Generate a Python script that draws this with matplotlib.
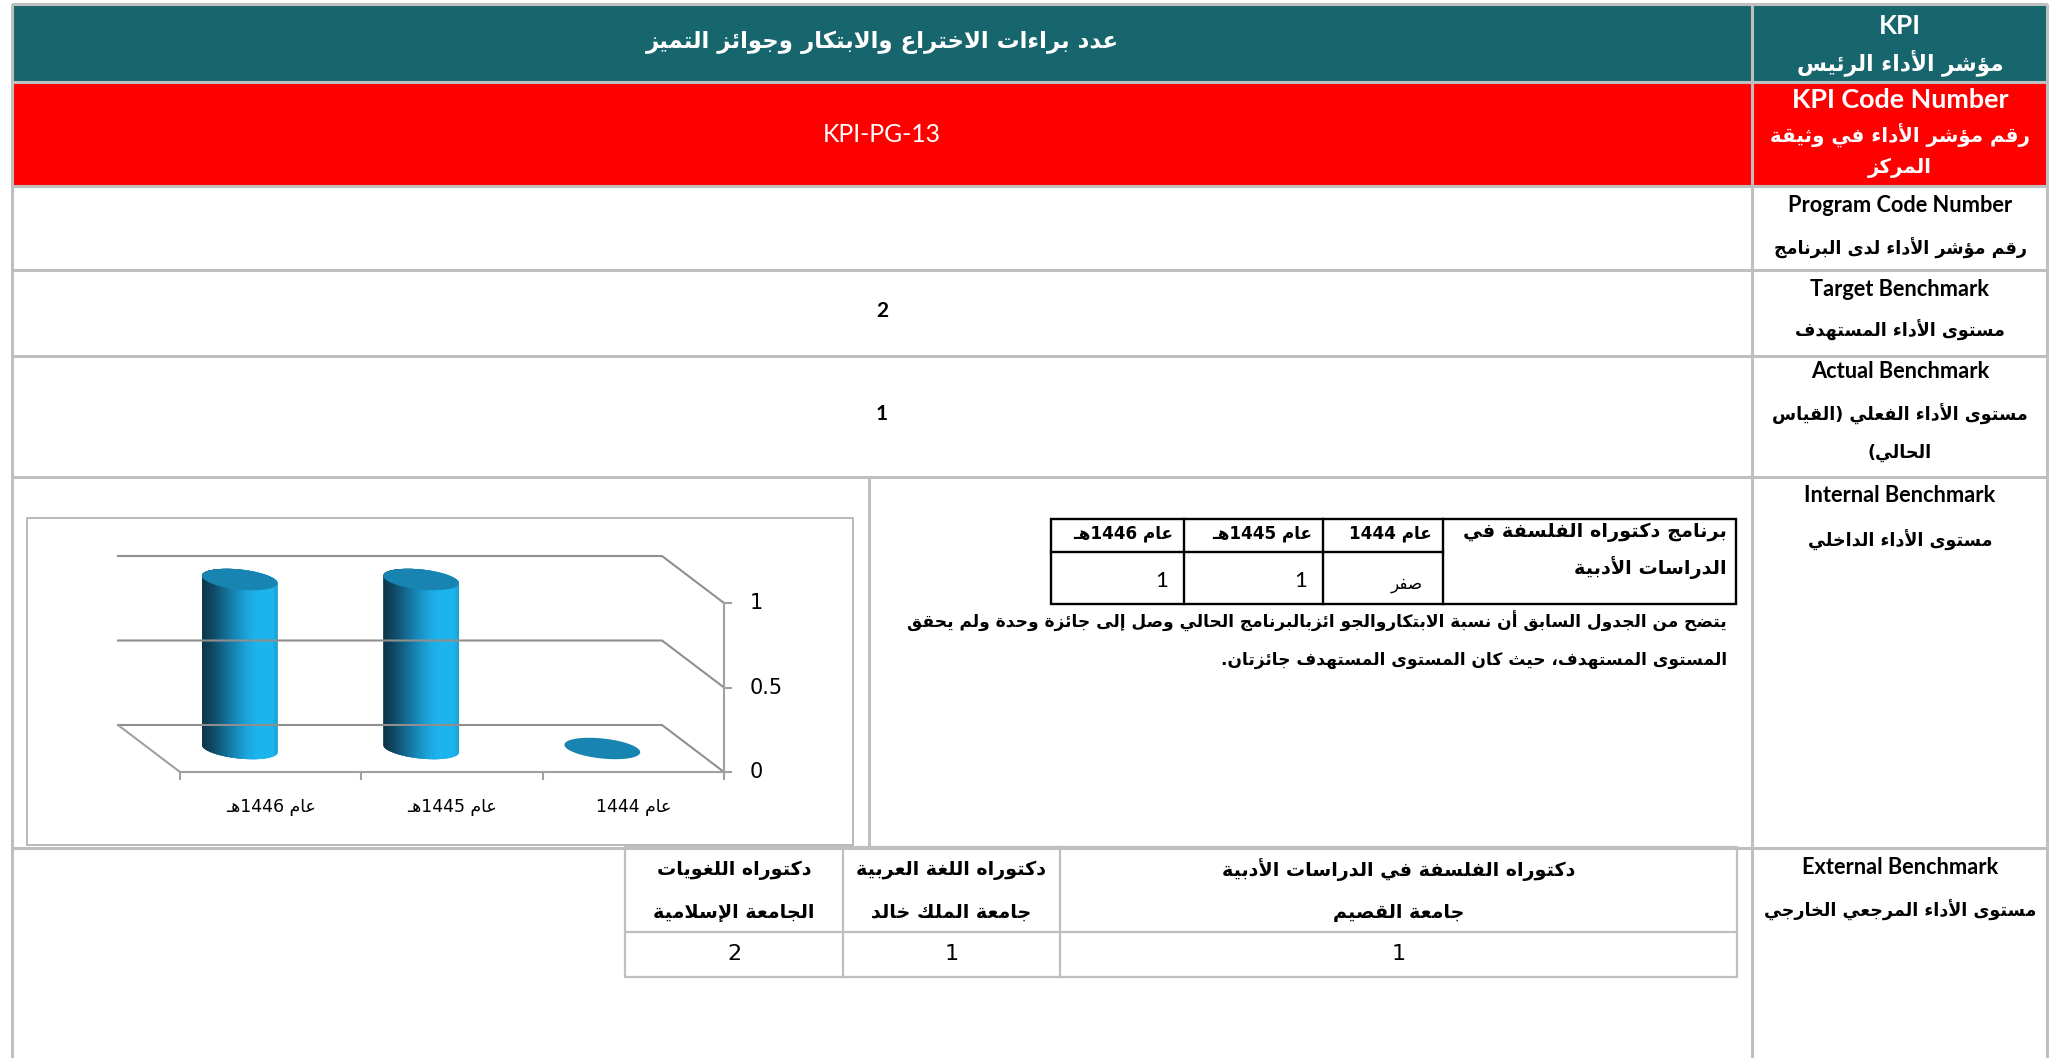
import re
import numpy as np
import matplotlib
matplotlib.use('Agg')
import matplotlib.pyplot as plt
from matplotlib.patches import Rectangle, Polygon
from matplotlib.collections import PolyCollection
from matplotlib.lines import Line2D
from matplotlib.transforms import IdentityTransform
from matplotlib.colors import LinearSegmentedColormap

# ---------------- data ----------------
kpi_title = 'عدد براءات الاختراع والابتكار وجوائز التميز'
kpi_code = 'KPI-PG-13'
target_value = '2'
actual_value = '1'
row_labels_en = ['KPI', 'KPI Code Number', 'Program Code Number', 'Target Benchmark',
                 'Actual Benchmark', 'Internal Benchmark', 'External Benchmark']
row_labels_ar = [['مؤشر الأداء الرئيس'],
                 ['رقم مؤشر الأداء في وثيقة', 'المركز'],
                 ['رقم مؤشر الأداء لدى البرنامج'],
                 ['مستوى الأداء المستهدف'],
                 ['مستوى الأداء الفعلي (القياس', 'الحالي)'],
                 ['مستوى الأداء الداخلي'],
                 ['مستوى الأداء المرجعي الخارجي']]
years = ['عام 1444', 'عام 1445هـ', 'عام 1446هـ']
awards = [0, 1, 1]
award_cells = ['صفر', '1', '1']
program_name = ['برنامج دكتوراه الفلسفة في', 'الدراسات الأدبية']
comment_lines = ['يتضح من الجدول السابق أن نسبة الابتكاروالجو ائزبالبرنامج الحالي وصل إلى جائزة وحدة ولم يحقق',
                 'المستوى المستهدف، حيث كان المستوى المستهدف جائزتان.']
y_ticks = [0, 0.5, 1]
y_tick_labels = ['0', '0.5', '1']
ext_programs = ['دكتوراه الفلسفة في الدراسات الأدبية', 'دكتوراه اللغة العربية', 'دكتوراه اللغويات']
ext_universities = ['جامعة القصيم', 'جامعة الملك خالد', 'الجامعة الإسلامية']
ext_values = [1, 1, 2]

# ---------------- minimal Arabic shaping + RTL ordering ----------------
_AR = {
    0x0621: (0xFE80, None, None, None), 0x0622: (0xFE81, 0xFE82, None, None),
    0x0623: (0xFE83, 0xFE84, None, None), 0x0624: (0xFE85, 0xFE86, None, None),
    0x0625: (0xFE87, 0xFE88, None, None), 0x0626: (0xFE89, 0xFE8A, 0xFE8B, 0xFE8C),
    0x0627: (0xFE8D, 0xFE8E, None, None), 0x0628: (0xFE8F, 0xFE90, 0xFE91, 0xFE92),
    0x0629: (0xFE93, 0xFE94, None, None), 0x062A: (0xFE95, 0xFE96, 0xFE97, 0xFE98),
    0x062B: (0xFE99, 0xFE9A, 0xFE9B, 0xFE9C), 0x062C: (0xFE9D, 0xFE9E, 0xFE9F, 0xFEA0),
    0x062D: (0xFEA1, 0xFEA2, 0xFEA3, 0xFEA4), 0x062E: (0xFEA5, 0xFEA6, 0xFEA7, 0xFEA8),
    0x062F: (0xFEA9, 0xFEAA, None, None), 0x0630: (0xFEAB, 0xFEAC, None, None),
    0x0631: (0xFEAD, 0xFEAE, None, None), 0x0632: (0xFEAF, 0xFEB0, None, None),
    0x0633: (0xFEB1, 0xFEB2, 0xFEB3, 0xFEB4), 0x0634: (0xFEB5, 0xFEB6, 0xFEB7, 0xFEB8),
    0x0635: (0xFEB9, 0xFEBA, 0xFEBB, 0xFEBC), 0x0636: (0xFEBD, 0xFEBE, 0xFEBF, 0xFEC0),
    0x0637: (0xFEC1, 0xFEC2, 0xFEC3, 0xFEC4), 0x0638: (0xFEC5, 0xFEC6, 0xFEC7, 0xFEC8),
    0x0639: (0xFEC9, 0xFECA, 0xFECB, 0xFECC), 0x063A: (0xFECD, 0xFECE, 0xFECF, 0xFED0),
    0x0640: (0x0640, 0x0640, 0x0640, 0x0640),
    0x0641: (0xFED1, 0xFED2, 0xFED3, 0xFED4), 0x0642: (0xFED5, 0xFED6, 0xFED7, 0xFED8),
    0x0643: (0xFED9, 0xFEDA, 0xFEDB, 0xFEDC), 0x0644: (0xFEDD, 0xFEDE, 0xFEDF, 0xFEE0),
    0x0645: (0xFEE1, 0xFEE2, 0xFEE3, 0xFEE4), 0x0646: (0xFEE5, 0xFEE6, 0xFEE7, 0xFEE8),
    0x0647: (0xFEE9, 0xFEEA, 0xFEEB, 0xFEEC), 0x0648: (0xFEED, 0xFEEE, None, None),
    0x0649: (0xFEEF, 0xFEF0, None, None), 0x064A: (0xFEF1, 0xFEF2, 0xFEF3, 0xFEF4),
}
_LAMALEF = {0x0622: (0xFEF5, 0xFEF6), 0x0623: (0xFEF7, 0xFEF8),
            0x0625: (0xFEF9, 0xFEFA), 0x0627: (0xFEFB, 0xFEFC)}


def _jn(ch):
    f = _AR.get(ord(ch)) if ch else None
    return f is not None and f[2] is not None


def _jp(ch):
    f = _AR.get(ord(ch)) if ch else None
    return f is not None and f[1] is not None


def shape(text):
    out, i, n = [], 0, len(text)
    while i < n:
        c = text[i]
        f = _AR.get(ord(c))
        if f is None:
            out.append(c); i += 1; continue
        prev = text[i - 1] if i > 0 else ''
        pj = _jn(prev) and f[1] is not None
        if ord(c) == 0x644 and i + 1 < n and ord(text[i + 1]) in _LAMALEF:
            iso, fin = _LAMALEF[ord(text[i + 1])]
            out.append(chr(fin if pj else iso)); i += 2; continue
        nxt = text[i + 1] if i + 1 < n else ''
        nj = f[2] is not None and _jp(nxt)
        g = f[3] if (pj and nj) else f[1] if pj else f[2] if nj else f[0]
        out.append(chr(g)); i += 1
    return ''.join(out)


def ar(text):
    s = shape(text)[::-1]
    s = re.sub(r'[0-9A-Za-z][0-9A-Za-z.\-]*', lambda m: m.group(0)[::-1], s)
    return s.translate({ord('('): ')', ord(')'): '('})


# ---------------- figure ----------------
W, H = 2056, 1058
fig = plt.figure(figsize=(W / 100, H / 100), dpi=100)
ax = fig.add_axes([0, 0, 1, 1])
ax.set_xlim(0, W); ax.set_ylim(H, 0); ax.axis('off')
R = fig.canvas.get_renderer()

AR_FONT = ['DejaVu Sans']
EN_FONT = ['Lato', 'DejaVu Sans']
NARROW = ['Liberation Sans Narrow', 'DejaVu Sans']
TEAL = '#17666d'
RED = '#ff0000'
GRID = '#bfbfbf'


def put(x, y, s, size=14, ha='center', va='center', family=AR_FONT,
        weight='bold', color='black', rtl=True, axes=None, transform=None):
    kw = {}
    if transform is not None:
        kw['transform'] = transform
    return (axes or ax).text(x, y, ar(s) if rtl else s, fontsize=size, ha=ha, va=va,
                             family=family, fontweight=weight, color=color, **kw)


def fit(s, width, family=AR_FONT, weight='bold', rtl=True):
    """font size (pt) that gives string s the given pixel width"""
    t = ax.text(0, 0, ar(s) if rtl else s, fontsize=20, family=family, fontweight=weight)
    bw = t.get_window_extent(R).width
    t.remove()
    return 20 * width / bw


# ---------------- main table ----------------
L, RGT, TOP = 12, 2047, 4
SPLIT = 1752
rows_y = [4, 82, 186, 270, 356, 477, 848]
ax.add_patch(Rectangle((L, rows_y[0]), RGT - L, rows_y[1] - rows_y[0], fc=TEAL, ec='none'))
ax.add_patch(Rectangle((L, rows_y[1]), RGT - L, rows_y[2] - rows_y[1], fc=RED, ec='none'))
for yy in rows_y:
    ax.plot([L, RGT], [yy, yy], color=GRID, lw=2.2, solid_capstyle='butt')
for xx in (L, SPLIT, RGT):
    ax.plot([xx, xx], [TOP, H], color=GRID, lw=2.2, solid_capstyle='butt')
ax.plot([869, 869], [rows_y[5], rows_y[6]], color=GRID, lw=2.2)

# right column labels
RC = 1900
en_pos = [26, 100, 205, 289, 372, 496, 868]
ar_pos = [[63], [135, 168], [248], [330], [414, 453], [540], [910]]
white_rows = 2
s_kpi = fit('KPI', 42, family=EN_FONT, rtl=False)
s_en_w = fit('KPI Code Number', 217, family=EN_FONT, rtl=False)
s_en_b = fit('Target Benchmark', 178, family=EN_FONT, rtl=False)
s_ar_kpi = fit(row_labels_ar[0][0], 206)
s_ar_w = fit('رقم مؤشر الأداء في وثيقة', 258)
s_ar_b = fit('مستوى الأداء المرجعي الخارجي', 272)
for k, (en, ars, ey, ays) in enumerate(zip(row_labels_en, row_labels_ar, en_pos, ar_pos)):
    white = k < white_rows
    col = 'white' if white else 'black'
    es = s_kpi if k == 0 else (s_en_w if white else s_en_b)
    put(RC, ey, en, size=es, family=EN_FONT, color=col, rtl=False)
    asz = s_ar_kpi if k == 0 else (s_ar_w if white else s_ar_b)
    for s, yy in zip(ars, ays):
        put(RC, yy, s, size=asz, color=col)

LC = (L + SPLIT) / 2
put(LC, 42, kpi_title, size=fit(kpi_title, 475), color='white')
put(LC, 135, kpi_code, size=fit(kpi_code, 118, family=EN_FONT, weight='normal', rtl=False),
    family=EN_FONT, weight='normal', color='white', rtl=False)
put(LC, 311, target_value, size=15, family=EN_FONT, rtl=False)
put(LC, 414, actual_value, size=15, family=EN_FONT, rtl=False)

# ---------------- inner table (internal benchmark) ----------------
IX = [1051, 1184, 1323, 1443, 1736]
IY = [519, 552, 604]
ax.add_patch(Rectangle((IX[0], IY[0]), IX[-1] - IX[0], IY[-1] - IY[0], fc='none', ec='black', lw=1.7))
for xx in IX[1:-1]:
    ax.plot([xx, xx], [IY[0], IY[-1]], color='black', lw=1.7)
ax.plot([IX[0], IX[3]], [IY[1], IY[1]], color='black', lw=1.7)
s_par = fit(comment_lines[0], 818)
s_prog = fit(program_name[0], 262)
put(IX[4] - 9, 532, program_name[0], size=s_prog, ha='right')
put(IX[4] - 9, 568, program_name[1], size=s_prog, ha='right')
s_head = fit(years[1], 100)
for k, (yr, cell) in enumerate(zip(years, award_cells)):
    right = IX[3 - k]
    put(right - 11, 534, yr, size=s_head, ha='right')
    if cell.isdigit():
        put(right - 16, 581, cell, size=16, ha='right', weight='normal', family=EN_FONT, rtl=False)
    else:
        put(right - 20, 584, cell, size=s_head, ha='right', weight='normal')
put(1727, 621, comment_lines[0], size=s_par, ha='right')
put(1727, 660, comment_lines[1], size=s_par, ha='right')

# ---------------- chart ----------------
ax.add_patch(Rectangle((27, 518), 853 - 27, 845 - 518, fc='white', ec='#a6a6a6', lw=1.1))
cx0, cx1, cy0, cy1 = 180, 724, 772, 603
axc = fig.add_axes([cx0 / W, 1 - cy0 / H, (cx1 - cx0) / W, (cy0 - cy1) / H])
n = len(years)
axc.set_xlim(n - 0.5, -0.5)
axc.set_ylim(0, max(y_ticks))
axc.axis('off')
I = IdentityTransform()
DEPTH = np.array([-62.0, 47.0])


def D(i, v, d):
    return axc.transData.transform((i, v)) + d * DEPTH


def pline(pts, color='#8f8f8f', lw=1.5):
    pts = np.array(pts)
    axc.add_line(Line2D(pts[:, 0], pts[:, 1], transform=I, clip_on=False, color=color, lw=lw))


lo, hi = n - 0.5, -0.5
for v in y_ticks:
    pline([D(lo, v, 1), D(hi, v, 1), D(hi, v, 0)])
pline([D(lo, 0, 1), D(lo, 0, 0), D(hi, 0, 0)], color='#a0a0a0')
pline([D(hi, 0, 0), D(hi, max(y_ticks), 0)], color='#a0a0a0')
for v, lab in zip(y_ticks, y_tick_labels):
    p = D(hi, v, 0)
    pline([p, p + [7, 0]], color='#a0a0a0')
    put(p[0] + 26, p[1], lab, size=15, ha='left', family=NARROW, weight='normal',
        rtl=False, axes=axc, transform=I)
for b in np.arange(n + 1) - 0.5:
    p = D(b, 0, 0)
    pline([p, p + [0, -7]], color='#a0a0a0')
s_cat = fit(years[1], 90, weight='normal')
for i, yr in enumerate(years):
    p = D(i, 0, 0)
    put(p[0], p[1] - 35, yr, size=s_cat, weight='normal', axes=axc, transform=I)


def ell(c, a, b, ang, m=240):
    t = np.linspace(0, 2 * np.pi, m)
    ca, sa = np.cos(ang), np.sin(ang)
    x, y = a * np.cos(t), b * np.sin(t)
    return np.column_stack([c[0] + x * ca - y * sa, c[1] + x * sa + y * ca])


def hull(P):
    P = sorted(map(tuple, P))

    def cross(o, a, b):
        return (a[0] - o[0]) * (b[1] - o[1]) - (a[1] - o[1]) * (b[0] - o[0])
    lower, upper = [], []
    for p in P:
        while len(lower) >= 2 and cross(lower[-2], lower[-1], p) <= 0:
            lower.pop()
        lower.append(p)
    for p in reversed(P):
        while len(upper) >= 2 and cross(upper[-2], upper[-1], p) <= 0:
            upper.pop()
        upper.append(p)
    return np.array(lower[:-1] + upper[:-1])


cmap = LinearSegmentedColormap.from_list('cyl', [(0, '#0b3447'), (0.15, '#0f4a66'), (0.4, '#157fad'),
                                                 (0.6, '#1aa6dd'), (0.72, '#1cb4ed'), (0.93, '#1cb4ed'),
                                                 (1, '#18a0d4')])
TOPC = '#1784b1'
bar_w = 0.42
for i, v in enumerate(awards):
    base = D(i, 0, 0.5)
    top = D(i, v, 0.5)
    a = abs(axc.transData.transform((bar_w / 2, 0))[0] - axc.transData.transform((0, 0))[0])
    b, ang = 10.0, np.deg2rad(-6)
    if v > 0:
        hp = hull(np.vstack([ell(base, a, b, ang), ell(top, a, b, ang)]))
        clip = Polygon(hp, closed=True, transform=I, fc='none', ec='none')
        xs = np.linspace(hp[:, 0].min(), hp[:, 0].max(), 121)
        strips = [[(xs[k], base[1] - 30), (xs[k + 1], base[1] - 30),
                   (xs[k + 1], top[1] + 30), (xs[k], top[1] + 30)] for k in range(120)]
        cols = cmap((np.arange(120) + 0.5) / 120)
        pc = PolyCollection(strips, facecolors=cols, edgecolors=cols, linewidths=0.6, transform=I)
        axc.add_collection(pc, autolim=False)
        pc.set_clip_path(clip)
        pc.set_clip_box(None)
    axc.add_patch(Polygon(ell(top, a, b, ang), closed=True, transform=I, fc=TOPC, ec='none',
                          clip_on=False, zorder=3))

# ---------------- external benchmark table ----------------
EX = [625, 843, 1060, 1737]
EY = [847, 932, 977]
ax.add_patch(Rectangle((EX[0], EY[0]), EX[-1] - EX[0], EY[-1] - EY[0], fc='none', ec=GRID, lw=1.6))
for xx in EX[1:-1]:
    ax.plot([xx, xx], [EY[0], EY[-1]], color=GRID, lw=1.6)
ax.plot([EX[0], EX[-1]], [EY[1], EY[1]], color=GRID, lw=1.6)
s_ext = fit(ext_programs[1], 190)
for k, (pg, un, val) in enumerate(zip(ext_programs, ext_universities, ext_values)):
    cxm = (EX[3 - k] + EX[2 - k]) / 2
    put(cxm, 870, pg, size=s_ext)
    put(cxm, 912, un, size=s_ext)
    put(cxm, 954, str(val), size=16, family=NARROW, weight='normal', rtl=False)

fig.savefig('out.png', dpi=100)
